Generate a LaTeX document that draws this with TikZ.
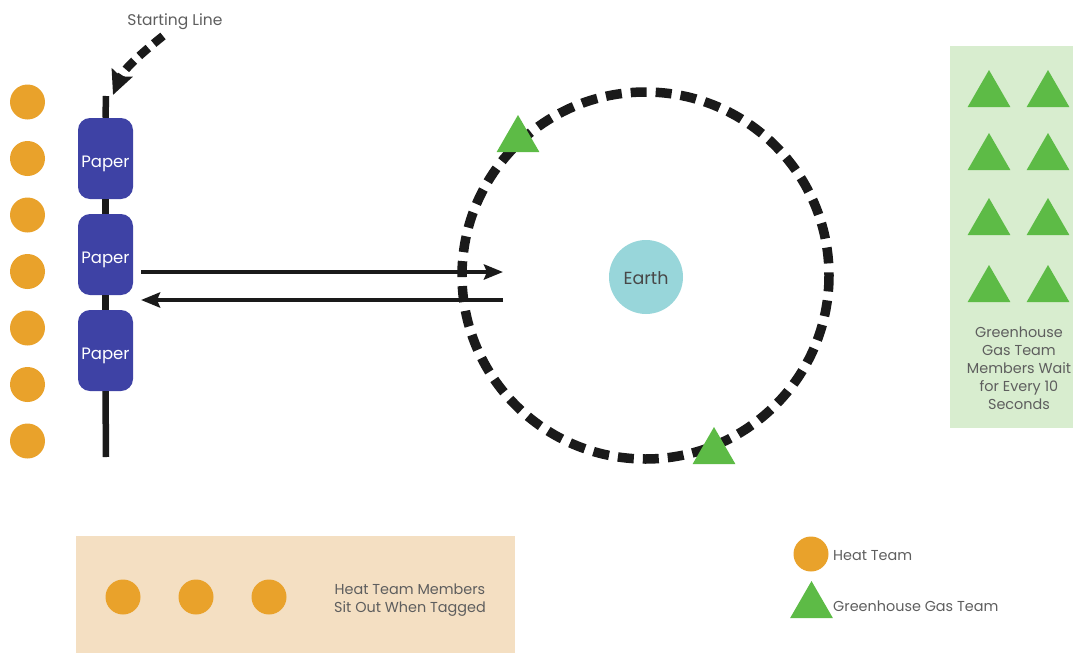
\documentclass[tikz,border=0pt]{standalone}
\usepackage{fontspec}
\setmainfont{Poppins}
\usetikzlibrary{shapes.geometric,arrows.meta}
\definecolor{heatc}{HTML}{E9A22B}
\definecolor{gasc}{HTML}{5DBB46}
\definecolor{paperc}{HTML}{3E42A5}
\definecolor{earthc}{HTML}{98D6DA}
\definecolor{gasbg}{HTML}{D8EDCF}
\definecolor{heatbg}{HTML}{F4DFC2}
\definecolor{txt}{HTML}{5E5E5E}
\definecolor{ink}{HTML}{1A1A1A}
\begin{document}
\begin{tikzpicture}[x=1pt,y=-1pt,
  heat/.style={circle,fill=heatc,minimum size=35,inner sep=0},
  gas/.style={regular polygon,regular polygon sides=3,fill=gasc,minimum size=49.6,inner sep=0},
  paper/.style={rectangle,rounded corners=12,fill=paperc,minimum width=55,minimum height=81,
    inner sep=0,text=white,font=\fontsize{16.5}{18}\selectfont,text height=17,text depth=0},
  lbl/.style={text=txt,font=\fontsize{14.4}{18}\selectfont,align=center,inner sep=0},
  flow/.style={line width=4,draw=ink,-{Stealth[length=19,width=15,inset=3]}},
]
\useasboundingbox (0,0) rectangle (1073,653);

% panels
\fill[gasbg] (950,46) rectangle (1073,428);
\fill[heatbg] (76,536) rectangle (515,653);

% orbit around the Earth
\node[circle,fill=earthc,minimum size=74,inner sep=0,text=ink!80,font=\fontsize{17.5}{18}\selectfont,
  text height=14,text depth=0] (earth) at (646,277) {Earth};
\draw[line width=9.5,ink,dash pattern=on 16 off 9] (645.5,275.5) circle[radius=183.5];
\node[gas] (gtop) at (518,139.8) {};
\node[gas] (gbot) at (714,451.8) {};

% starting line with the three papers
\coordinate (ltop) at (106,96);
\coordinate (lbot) at (106,457);
\node[paper] (p1) at (105.5,158.5) {Paper};
\node[paper] (p2) at (105.5,254.5) {Paper};
\node[paper] (p3) at (105.5,350.5) {Paper};
\begin{scope}[line width=6.5,ink]
  \draw (ltop) -- (p1.north);
  \draw (p1.south) -- (p2.north);
  \draw (p2.south) -- (p3.north);
  \draw (p3.south) -- (lbot);
\end{scope}

\node[lbl,font=\fontsize{15.5}{18}\selectfont] (start) at (175,22) {Starting Line};
\coordinate (sa) at (163,36);
\coordinate (sb) at (113,95);
\draw[line width=8.5,ink,dash pattern=on 12 off 7,-{Stealth[length=24,width=22,inset=4]}]
  (sa) .. controls (148,48) and (124,68) .. (sb);

% heat flow arrows
\coordinate (out1) at (141,272);
\coordinate (out2) at (503,272);
\coordinate (in1) at (503,300);
\coordinate (in2) at (141,300);
\draw[flow] (out1) -- (out2);
\draw[flow] (in1) -- (in2);

% heat team lined up
\foreach \i/\y in {1/102,2/158.5,3/215,4/271.5,5/328,6/384.5,7/441}
  \node[heat] (h\i) at (27.5,\y) {};

% greenhouse gas team waiting
\foreach \r/\y in {1/94.8,2/157.8,3/222.8,4/289.8}{
  \node[gas] (wa\r) at (989,\y) {};
  \node[gas] (wb\r) at (1048,\y) {};
}
\node[lbl] (waitnote) at (1019,368.5) {Greenhouse\\Gas Team\\Members Wait\\for Every 10\\Seconds};

% tagged heat team members
\node[heat] (s1) at (123,597) {};
\node[heat] (s2) at (196,597) {};
\node[heat] (s3) at (269,597) {};
\node[lbl] (sitnote) at (410,600) {Heat Team Members\\Sit Out When Tagged};

% legend
\node[heat] (lgheat) at (811,554) {};
\node[lbl,anchor=west] (lgheattxt) at (833,555.5) {Heat Team};
\node[gas] (lggas) at (811.5,605.8) {};
\node[lbl,anchor=west] (lggastxt) at (833,606.5) {Greenhouse Gas Team};
\end{tikzpicture}
\end{document}
